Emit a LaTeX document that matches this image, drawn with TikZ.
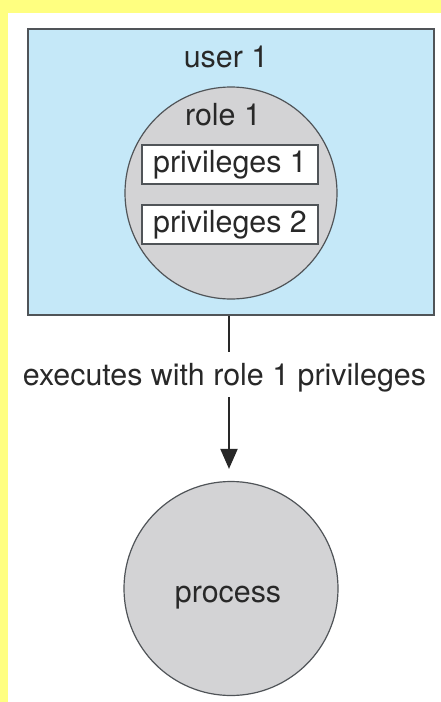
\documentclass[tikz,border=0pt]{standalone}
\usepackage{fontspec}
\setmainfont{TeX Gyre Heros}
\usetikzlibrary{arrows.meta}
\definecolor{bgyellow}{RGB}{255,255,128}
\definecolor{userblue}{RGB}{197,232,248}
\definecolor{rolegray}{RGB}{211,211,213}
\definecolor{edgegray}{RGB}{80,84,88}
\definecolor{txtgray}{RGB}{40,40,40}
\tikzset{
  txt/.style={font=\fontsize{30.4}{35}\selectfont, text=txtgray, inner sep=0pt},
  userbox/.style={draw=edgegray, line width=1.5pt, fill=userblue, minimum width=406pt, minimum height=286pt, inner sep=0pt},
  rolecirc/.style={circle, draw=edgegray, line width=1.2pt, fill=rolegray, inner sep=0pt},
  privbox/.style={draw=edgegray, line width=1.2pt, fill=white, minimum width=176pt, minimum height=39pt, inner sep=0pt, txt},
  conn/.style={draw=txtgray, line width=2pt},
}
\begin{document}
\begin{tikzpicture}[x=1pt, y=-1pt]
\useasboundingbox (0,0) rectangle (441,702);
\fill[bgyellow] (0,0) rectangle (441,702);
\fill[white] (8,13) rectangle (441,702);
\node[userbox] (user) at (231,172) {};
\node[txt, anchor=base] (usertxt) at (226,67) {user 1};
\node[rolecirc, minimum size=212pt] (role) at (231,193) {};
\node[txt, anchor=base] (roletxt) at (223,125) {role 1};
\node[privbox] (p1) at (230,164.5) {privileges 1};
\node[privbox] (p2) at (230,224.5) {privileges 2};
\node[txt, anchor=base, text height=33pt, text depth=12pt] (label) at (224.5,385) {executes with role 1 privileges};
\node[rolecirc, minimum size=214pt] (proc) at (231,588.5) {};
\node[txt, anchor=base] (proctxt) at (228,602) {process};
\draw[conn] ([xshift=-2pt]user.south) -- ([xshift=-2pt]user.south |- label.north);
\draw[conn, -{Triangle[width=17pt,length=20pt]}, shorten >=12pt] ([xshift=-2pt]user.south |- label.south) -- ([xshift=-2pt]proc.north);
\end{tikzpicture}
\end{document}
